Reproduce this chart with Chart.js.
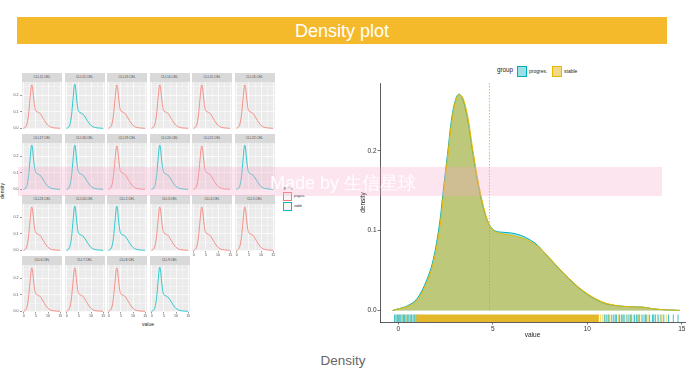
<!DOCTYPE html>
<html><head><meta charset="utf-8">
<script src="https://cdn.jsdelivr.net/npm/chart.js@4.4.1/dist/chart.umd.min.js"></script>
<style>
html,body{margin:0;padding:0;background:#fff;width:693px;height:380px;overflow:hidden;font-family:"Liberation Sans",Arial,sans-serif;}
.a{position:absolute;white-space:nowrap;}
#banner{left:17px;top:17px;width:650px;height:27px;background:#F5BA2C;color:#fff;font-size:18px;line-height:28px;text-align:center;}
.strip{background:#D9D9D9;color:#4d4d4d;font-size:3.3px;text-align:center;line-height:9px;height:9px;width:40px;}
canvas{position:absolute;}
#wm{left:18px;top:167px;width:644px;height:29px;background:rgba(250,170,205,0.3);z-index:50;pointer-events:none;}
#wmt{left:270px;top:171px;font-size:18px;color:rgba(255,255,255,0.92);z-index:51;}
</style></head><body>
<div id="banner" class="a">Density plot</div>
<div id="root"></div>
<div id="wm" class="a"></div>
<div id="wmt" class="a">Made by 生信星球</div>
<div class="a" style="left:0;top:353px;width:686px;text-align:center;font-size:13.5px;color:#666;">Density</div>
<script>
// ---------------- data ----------------
const groups = ['progres.', 'stable'];
const facetLabels = ['CLL11.CEL','CLL12.CEL','CLL13.CEL','CLL14.CEL','CLL15.CEL','CLL16.CEL',
  'CLL17.CEL','CLL18.CEL','CLL19.CEL','CLL20.CEL','CLL21.CEL','CLL22.CEL',
  'CLL23.CEL','CLL24.CEL','CLL2.CEL','CLL3.CEL','CLL4.CEL','CLL5.CEL',
  'CLL6.CEL','CLL7.CEL','CLL8.CEL','CLL9.CEL'];
const facetGroups = ['progres.','stable','progres.','progres.','progres.','progres.',
  'stable','stable','progres.','stable','progres.','stable',
  'progres.','stable','stable','progres.','progres.','progres.',
  'progres.','progres.','progres.','stable'];
const smallX    = [-0.2, 0.5, 1, 1.5, 2, 2.5, 3, 3.3, 3.6, 4, 4.5, 5, 5.5, 6, 6.5, 7, 7.5, 8, 9, 10, 11, 12, 13, 14, 15];
const smallProg = [0, 0.005, 0.015, 0.04, 0.09, 0.17, 0.245, 0.262, 0.245, 0.19, 0.13, 0.105, 0.1, 0.097, 0.093, 0.085, 0.073, 0.06, 0.036, 0.018, 0.008, 0.004, 0.002, 0.001, 0];
const smallStab = [0, 0.004, 0.013, 0.036, 0.085, 0.168, 0.25, 0.266, 0.248, 0.185, 0.125, 0.1, 0.095, 0.092, 0.088, 0.08, 0.07, 0.058, 0.035, 0.017, 0.008, 0.004, 0.002, 0.001, 0];
const smallXTicks = [0, 2.5, 5, 7.5, 10, 12.5, 15];
const smallXLabels = ['0', '', '5', '', '10', '', '15'];
const smallYTicks = [0, 0.05, 0.1, 0.15, 0.2, 0.25];
const smallYLabels = ['0.0', '', '0.1', '', '0.2', ''];

const bigX    = [-0.3, 0, 0.5, 1, 1.5, 1.85, 2.2, 2.4, 2.6, 2.8, 3.0, 3.2, 3.4, 3.7, 3.9, 4.2, 4.5, 4.8, 5.1, 5.5, 6.0, 6.5, 7.0, 7.4, 8.0, 8.5, 9.0, 9.5, 10.0, 10.5, 11.0, 12.0, 13.0, 13.5, 14.0, 14.9];
const bigProg = [0, 0.002, 0.006, 0.015, 0.038, 0.064, 0.112, 0.155, 0.195, 0.237, 0.262, 0.271, 0.265, 0.235, 0.203, 0.16, 0.128, 0.108, 0.1, 0.098, 0.097, 0.094, 0.088, 0.081, 0.065, 0.052, 0.04, 0.029, 0.02, 0.013, 0.008, 0.005, 0.004, 0.002, 0.001, 0];
const bigStab = [0, 0.002, 0.005, 0.013, 0.035, 0.06, 0.105, 0.148, 0.19, 0.232, 0.26, 0.27, 0.267, 0.24, 0.208, 0.165, 0.131, 0.108, 0.099, 0.096, 0.094, 0.091, 0.086, 0.08, 0.066, 0.053, 0.041, 0.03, 0.021, 0.014, 0.009, 0.005, 0.004, 0.002, 0.001, 0];
const bigXTicks = [0, 5, 10, 15];
const bigXLabels = ['0', '5', '10', '15'];
const bigYTicks = [0, 0.1, 0.2];
const bigYLabels = ['0.0', '0.1', '0.2'];
const stableMean = 4.82;
const rugProg = [-0.2,-0.12,-0.05,0.0,0.07,0.13,0.2,0.27,0.33,0.4,0.48,0.55,0.63,0.7,0.78,0.85,0.93,1.0,10.9,11.0,11.1,11.15,11.3,11.4,11.48,11.55,11.7,11.8,11.88,11.95,12.1,12.2,12.28,12.35,12.5,12.6,12.68,12.75,12.9,13.0,13.08,13.15,13.3,13.45,13.52,13.6,13.75,13.9,14.05,14.3,14.55,14.8];
const rugStab = [-0.15,0.05,0.25,0.45,0.6,0.8,0.9,10.6,10.7,10.8,10.95,11.1,11.25,11.5,11.65,11.9,12.05,12.3,12.45,12.7,12.85,13.1,13.25,13.5,13.7,13.85,14.0,14.2];
const rugStabDense = [0.95, 10.6];

// ---------------- styles / layout ----------------
const facetColor = {'progres.': '#F8766D', 'stable': '#00BFC4'};
const colX = [22, 64.5, 107, 149.5, 192, 234.5];
const stripTop = [73, 134, 195, 256];
const PW = 40, PH = 47, SH = 9;
const root = document.getElementById('root');
function el(tag, cls, style, text){const e=document.createElement(tag); if(cls) e.className=cls; Object.assign(e.style, style||{}); if(text!==undefined) e.textContent=text; root.appendChild(e); return e;}

const bgPlugin = {id:'panelBg', beforeDraw(chart, args, opts){ if(!opts.color) return; const a=chart.chartArea, c=chart.ctx; c.save(); c.fillStyle=opts.color; c.fillRect(a.left,a.top,a.width,a.height); c.restore(); }};
Chart.register(bgPlugin);

function smallChart(i){
  const r = Math.floor(i/6), cidx = i%6;
  const g = facetGroups[i];
  const ys = g === 'stable' ? smallStab : smallProg;
  const showY = cidx === 0;
  const showX = (r === 3) || (r === 2 && cidx >= 4);
  const left = colX[cidx], top = stripTop[r] + SH;
  el('div','a strip',{left:left+'px',top:stripTop[r]+'px'}, facetLabels[i]);
  const cv = el('canvas', null, {left:(left-16)+'px', top:(top-6)+'px'});
  cv.width = 16+PW+8; cv.height = 6+PH+9;
  const major = v => [0,5,10,15].includes(v) || [0,0.1,0.2].includes(Math.round(v*100)/100);
  new Chart(cv, {
    type:'line',
    data:{datasets:[{label:g, data: smallX.map((x,k)=>({x, y: ys[k]})), borderColor: facetColor[g], borderWidth:0.8, pointRadius:0, fill:false, cubicInterpolationMode:'monotone'}]},
    options:{responsive:false, animation:false, events:[], devicePixelRatio:1,
      layout:{padding:{top:6,right:8,left:0,bottom:0}},
      plugins:{legend:{display:false}, tooltip:{enabled:false}, panelBg:{color:'#EBEBEB'}},
      scales:{
        x:{type:'linear', min:-0.75, max:15.75,
          afterBuildTicks:s=>{s.ticks = smallXTicks.map(v=>({value:v}));},
          afterFit:s=>{s.height=9;},
          ticks:{display:showX, autoSkip:false, maxRotation:0, minRotation:0, font:{size:3.6, family:'Liberation Sans'}, color:'#4d4d4d', padding:0.5, callback:(v,k)=>smallXLabels[k]},
          grid:{color:'#fff', lineWidth:c=>major(c.tick.value)?0.7:0.35, drawTicks:showX, tickLength:1.5, tickWidth:0.5, tickColor:c=>major(c.tick.value)?'#333':'rgba(0,0,0,0)'},
          border:{display:false}},
        y:{type:'linear', min:-0.004, max:0.28,
          afterBuildTicks:s=>{s.ticks = smallYTicks.map(v=>({value:v}));},
          afterFit:s=>{s.width=16;},
          ticks:{display:showY, autoSkip:false, font:{size:3.6, family:'Liberation Sans'}, color:'#4d4d4d', padding:1.5, callback:(v,k)=>smallYLabels[k]},
          grid:{color:'#fff', lineWidth:c=>major(c.tick.value)?0.7:0.35, drawTicks:showY, tickLength:2, tickWidth:0.5, tickColor:c=>major(c.tick.value)?'#333':'rgba(0,0,0,0)'},
          border:{display:false}}
      }
    }
  });
}
facetLabels.forEach((_, i) => smallChart(i));

// facet axis titles & legend
el('div','a',{left:'-6px',top:'188px',fontSize:'5px',color:'#222',transform:'rotate(-90deg)',transformOrigin:'center'}, 'density');
el('div','a',{left:'142px',top:'321px',fontSize:'5px',color:'#222'}, 'value');
el('div','a',{left:'283px',top:'184.5px',fontSize:'4.2px',color:'#222'}, 'group');
groups.forEach((g,k)=>{
  el('div','a',{left:'283px',top:(192+k*9.5)+'px',width:'7px',height:'7px',border:'0.8px solid '+facetColor[g],background:'#f6f6f6'});
  el('div','a',{left:'294px',top:(194+k*9.5)+'px',fontSize:'3px',color:'#222'}, g);
});

// ---------------- big chart ----------------
const bigColor = {'progres.':'#00AFBB', 'stable':'#E7B800'};
const bigFill = {'progres.':'rgba(0,175,187,0.4)', 'stable':'rgba(225,178,20,0.5)'};
el('div','a',{left:'497px',top:'66px',fontSize:'6.3px',color:'#222'}, 'group');
groups.forEach((g,k)=>{
  const x0 = k===0 ? 517 : 552;
  el('div','a',{left:x0+'px',top:'65.5px',width:'8px',height:'9px',background:bigFill[g],border:'0.6px solid '+bigColor[g]});
  el('div','a',{left:(x0+12)+'px',top:'67.5px',fontSize:'5px',color:'#222'}, g);
});

const rugPlugin = {id:'rugVline',
  beforeDatasetsDraw(chart){
    const c=chart.ctx, xs=chart.scales.x, ys=chart.scales.y, a=chart.chartArea;
    const px = xs.getPixelForValue(stableMean);
    c.save(); c.strokeStyle='rgba(231,184,0,0.9)'; c.lineWidth=1; c.setLineDash([1.5,1.5]);
    c.beginPath(); c.moveTo(px, a.top); c.lineTo(px, ys.getPixelForValue(0)); c.stroke(); c.restore();
  },
  afterDatasetsDraw(chart){
    const c=chart.ctx, xs=chart.scales.x, a=chart.chartArea;
    const y1 = a.bottom, y0 = a.bottom - 7.5;
    c.save(); c.lineWidth=0.9;
    c.strokeStyle='rgba(0,175,187,0.85)';
    rugProg.forEach(v=>{const p=xs.getPixelForValue(v); c.beginPath(); c.moveTo(p,y0); c.lineTo(p,y1); c.stroke();});
    c.fillStyle='rgba(227,178,30,0.95)';
    const b0=xs.getPixelForValue(rugStabDense[0]), b1=xs.getPixelForValue(rugStabDense[1]);
    c.fillRect(b0, y0, b1-b0, y1-y0);
    c.strokeStyle='rgba(231,184,0,0.6)';
    rugStab.forEach(v=>{const p=xs.getPixelForValue(v); c.beginPath(); c.moveTo(p,y0); c.lineTo(p,y1); c.stroke();});
    c.restore();
  }
};

const bcv = el('canvas', null, {left:'355px', top:'60px'});
bcv.width = 338; bcv.height = 285;
new Chart(bcv, {
  type:'line',
  data:{datasets:[
    {label:'progres.', order:2, data: bigX.map((x,k)=>({x, y:bigProg[k]})), borderColor:bigColor['progres.'], backgroundColor:bigFill['progres.'], borderWidth:1, pointRadius:0, fill:'origin', cubicInterpolationMode:'monotone'},
    {label:'stable', order:1, data: bigX.map((x,k)=>({x, y:bigStab[k]})), borderColor:bigColor['stable'], backgroundColor:bigFill['stable'], borderWidth:1, pointRadius:0, fill:'origin', cubicInterpolationMode:'monotone'}
  ]},
  options:{responsive:false, animation:false, events:[], devicePixelRatio:1,
    layout:{padding:{top:23,right:8,left:0,bottom:0}},
    plugins:{legend:{display:false}, tooltip:{enabled:false}},
    scales:{
      x:{type:'linear', min:-0.97, max:15.17,
        afterBuildTicks:s=>{s.ticks = bigXTicks.map(v=>({value:v}));},
        afterFit:s=>{s.height=23;},
        ticks:{autoSkip:false, maxRotation:0, minRotation:0, font:{size:6.5, family:'Liberation Sans'}, color:'#333', padding:1, callback:(v,k)=>bigXLabels[k]},
        grid:{display:true, drawOnChartArea:false, drawTicks:true, tickLength:2.5, tickColor:'#333', tickWidth:0.7},
        border:{display:true, color:'#333', width:0.8},
        title:{display:true, text:'value', font:{size:6.5, family:'Liberation Sans'}, color:'#222', padding:{top:0,bottom:6}}},
      y:{type:'linear', min:-0.0145, max:0.285,
        afterBuildTicks:s=>{s.ticks = bigYTicks.map(v=>({value:v}));},
        afterFit:s=>{s.width=25;},
        ticks:{autoSkip:false, font:{size:6.5, family:'Liberation Sans'}, color:'#333', padding:1, callback:(v,k)=>bigYLabels[k]},
        grid:{display:true, drawOnChartArea:false, drawTicks:true, tickLength:2.5, tickColor:'#333', tickWidth:0.7},
        border:{display:true, color:'#333', width:0.8},
        title:{display:true, text:'density', font:{size:6.5, family:'Liberation Sans'}, color:'#222', padding:{top:4,bottom:0}}}
    }
  },
  plugins:[rugPlugin]
});
</script>
</body></html>
